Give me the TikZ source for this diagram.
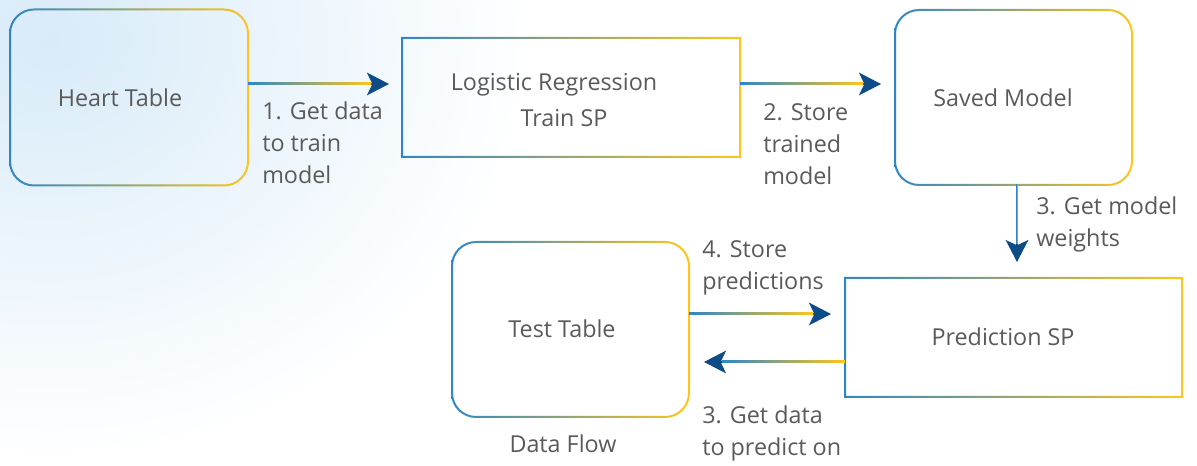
\documentclass[tikz,border=0pt]{standalone}
\usepackage{fontspec}
\setmainfont{Open Sans}
\usetikzlibrary{arrows.meta,calc}
\definecolor{cb}{HTML}{2E86C8}
\definecolor{cy}{HTML}{FFC61A}
\definecolor{navy}{HTML}{0D4C87}
\definecolor{txt}{HTML}{5A5A5A}
\definecolor{bgblue}{HTML}{D8EBF8}
\tikzset{
  box/.style={inner sep=0pt, outer sep=0pt, draw=none},
  lbl/.style={text=txt, font=\fontsize{17.5}{24}\selectfont, align=left, inner sep=0pt, anchor=north west},
  ctr/.style={text=txt, font=\fontsize{17.5}{24}\selectfont, inner sep=0pt},
  tip/.style={draw=navy, line width=1.5pt, -{Stealth[length=16.5pt,width=17pt,inset=4pt]}},
  gfill/.style={left color=cb, right color=cy},
}
% rounded gradient border around node #1, corner radius #2 (pt)
\newcommand\gborder[2]{%
  \shade[gfill, even odd rule]
    [rounded corners=#2+0.75pt] ($(#1.north west)+(-1,-1)$) rectangle ($(#1.south east)+(1,1)$)
    [rounded corners=#2-0.75pt] ($(#1.north west)+(1,1)$) rectangle ($(#1.south east)+(-1,-1)$);}
\newcommand\gsharp[1]{%
  \shade[gfill, even odd rule]
    ($(#1.north west)+(-1,-1)$) rectangle ($(#1.south east)+(1,1)$)
    ($(#1.north west)+(1,1)$) rectangle ($(#1.south east)+(-1,-1)$);}
\begin{document}
\begin{tikzpicture}[x=0.75pt,y=-0.75pt]
\useasboundingbox (0,0) rectangle (1197,466);
\fill[white] (0,0) rectangle (1197,466);
\begin{scope}
  \clip (0,0) rectangle (1197,466);
  \shade[inner color=bgblue, outer color=white] (50,40) ellipse [x radius=480, y radius=420];
\end{scope}

% boxes
\node[box, minimum width=178.5pt, minimum height=132pt] (heart) at (129,97.5) {};
\node[box, minimum width=253.5pt, minimum height=89.25pt] (logi) at (571,97.5) {};
\node[box, minimum width=177.75pt, minimum height=131.25pt] (saved) at (1013.5,97.5) {};
\node[box, minimum width=177.75pt, minimum height=131.25pt] (test) at (570.5,329.5) {};
\node[box, minimum width=252.75pt, minimum height=89.25pt] (pred) at (1013.5,337.5) {};
\gborder{heart}{18pt}
\gsharp{logi}
\gborder{saved}{18pt}
\gborder{test}{18pt}
\gsharp{pred}

% box texts
\node[ctr] (heartt) at (120,98) {Heart Table};
\node[ctr, anchor=base] (logit1) at (554,91) {Logistic Regression};
\node[ctr, anchor=base] (logit2) at (564,127) {Train SP};
\node[ctr] (savedt) at (1003,97.5) {Saved Model};
\node[ctr] (testt) at (562,328.5) {Test Table};
\node[ctr] (predt) at (1003,336.5) {Prediction SP};
\node[ctr, anchor=base] (flow) at (563,453) {Data Flow};

% connectors
\coordinate (a1s) at ($(heart.east)+(0,-13.5)$);
\coordinate (a1e) at ($(logi.west |- a1s)+(-13,0)$);
\draw[tip] (a1s) -- (a1e);
\shade[gfill] ($(a1s)+(0,-1)$) rectangle ($(a1e)+(-18,1)$);

\coordinate (a2s) at ($(logi.east)+(0,-13.5)$);
\coordinate (a2e) at ($(saved.west |- a2s)+(-14,0)$);
\draw[tip] (a2s) -- (a2e);
\shade[gfill] ($(a2s)+(0,-1)$) rectangle ($(a2e)+(-18,1)$);

\coordinate (a3s) at ($(saved.south)+(3.5,0)$);
\coordinate (a3e) at ($(pred.north -| a3s)+(0,-16)$);
\draw[tip] (a3s) -- (a3e);
\shade[gfill] ($(a3s)+(-1,0)$) rectangle ($(a3e)+(1,-18)$);

\coordinate (a4s) at ($(test.east)+(0,-15.5)$);
\coordinate (a4e) at ($(pred.west |- a4s)+(-14,0)$);
\draw[tip] (a4s) -- (a4e);
\shade[gfill] ($(a4s)+(0,-1)$) rectangle ($(a4e)+(-18,1)$);

\coordinate (a5s) at ($(pred.west)+(0,24.5)$);
\coordinate (a5e) at ($(test.east |- a5s)+(15,0)$);
\draw[tip] (a5s) -- (a5e);
\shade[gfill] ($(a5s)+(0,-1)$) rectangle ($(a5e)+(18,1)$);

% connector labels
\node[lbl] (l1) at (262,102) {1. Get data\\to train\\model};
\node[lbl] (l2) at (763,103.5) {2. Store\\trained\\model};
\node[lbl] (l3) at (1036,197) {3. Get model\\weights};
\node[lbl] (l4) at (702,240.5) {4. Store\\predictions};
\node[lbl] (l5) at (702,406) {3. Get data\\to predict on};
\end{tikzpicture}
\end{document}
